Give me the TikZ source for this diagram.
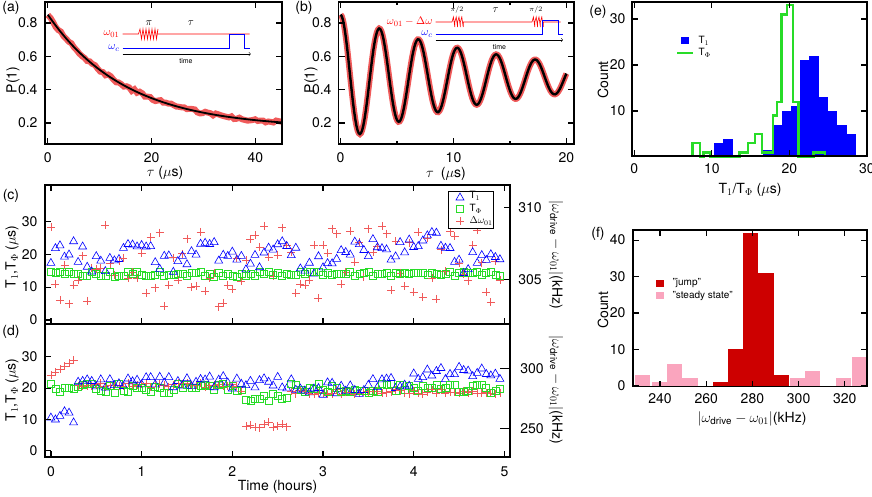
\documentclass[tikz,border=0pt]{standalone}
\usepackage{fontspec}
\setmainfont{TeX Gyre Heros}
\definecolor{fitred}{RGB}{240,90,90}
\definecolor{darkjump}{RGB}{205,0,0}
\definecolor{pinkss}{RGB}{250,165,190}
\definecolor{tgreen}{RGB}{40,220,40}
\tikzset{
  frame/.style={line width=1.4pt},
  tick/.style={line width=1.2pt},
  ticklab/.style={font=\fontsize{14}{16}\selectfont},
  axlab/.style={font=\fontsize{14}{16}\selectfont},
  inlab/.style={font=\fontsize{11}{13}\selectfont},
  leglab/.style={font=\fontsize{10}{12}\selectfont},
  tri/.style={blue, line width=0.6pt},
  sqr/.style={tgreen, line width=0.6pt},
  plus/.style={fitred, line width=0.7pt},
}
\newcommand{\mtri}[2]{\draw[tri] (#1-4,#2+3) -- (#1+4,#2+3) -- (#1,#2-4) -- cycle;}
\newcommand{\msq}[2]{\draw[sqr] (#1-3.5,#2-3.5) rectangle (#1+3.5,#2+3.5);}
\newcommand{\mplus}[2]{\draw[plus] (#1-4,#2) -- (#1+4,#2) (#1,#2-4) -- (#1,#2+4);}
\begin{document}
\begin{tikzpicture}[x=1pt, y=-1pt]
    \useasboundingbox (0,0) rectangle (872,497);
    \pgfmathsetseed{7}
    % (a) decay
    \draw[fitred, line width=6pt] plot[domain=0:45, samples=90] ({47.8+5.19*\x},{23+166.7*(0.63-0.68*exp(-\x/15))+1.5*rand});
    \draw[black, line width=1.8pt] plot[domain=0:45, samples=90] ({47.8+5.19*\x},{23+166.7*(0.63-0.68*exp(-\x/15))});
    \draw[frame] (44.8,2) rectangle (282,144);
    \foreach \v/\l in {0/0,20/20,40/40} {
        \draw[tick] ({47.8+5.19*\v},144) -- ++(0,-6);
        \draw[tick] ({47.8+5.19*\v},2) -- ++(0,6);
        \node[ticklab] at ({47.8+5.19*\v},158) {\l};
    }
    \foreach \v in {0.2,0.4,0.6,0.8} {
        \draw[tick] (44.8,{23+166.7*(0.8-\v)}) -- ++(6,0);
        \draw[tick] (282,{23+166.7*(0.8-\v)}) -- ++(-6,0);
        \node[ticklab, anchor=east] at (41,{23+166.7*(0.8-\v)}) {\v};
    }
    \node[axlab, rotate=90] at (13,80) {P(1)};
    \node[axlab] at (165,173) {$\tau$ ($\mu$s)};
    \node[ticklab] at (11,8) {(a)};
    % (a) inset
    \node[red, inlab, anchor=east] at (123,34) {$\omega_{01}$};
    \draw[red, line width=0.6pt] (122.5,34) -- (138.5,34) -- (140,29) \foreach \k in {0,...,5} {-- ++(1.5,10) -- ++(1.5,-10)} -- (157,34) -- (249.5,34);
    \node[inlab] at (149,23) {$\pi$};
    \node[inlab] at (191,23) {$\tau$};
    \node[blue, inlab, anchor=east] at (123,48) {$\omega_c$};
    \draw[blue, line width=0.6pt] (122.5,48) -- (229,48) -- (229,34) -- (244,34) -- (244,48) -- (249.5,48);
    \draw[->, line width=0.5pt] (122.5,54) -- (250.7,54);
    \node[font=\scriptsize] at (186,61) {time};
    % (b) Ramsey
    \draw[fitred, line width=6pt] plot[domain=0:20, samples=200] ({340.6+11.29*\x},{23+166.7*(0.33-0.38*cos(104.35*\x)*exp(-\x/14))});
    \draw[black, line width=2.4pt] plot[domain=0:20, samples=200] ({340.6+11.29*\x},{23+166.7*(0.33-0.38*cos(104.35*\x)*exp(-\x/14))});
    \draw[frame] (338.7,2) rectangle (574,144);
    \foreach \v in {0,10,20} {
        \draw[tick] ({340.6+11.29*\v},144) -- ++(0,-6);
        \draw[tick] ({340.6+11.29*\v},2) -- ++(0,6);
        \node[ticklab] at ({340.6+11.29*\v},158) {\v};
    }
    \foreach \v in {5,15} {
        \draw[tick] ({340.6+11.29*\v},144) -- ++(0,-3);
        \draw[tick] ({340.6+11.29*\v},2) -- ++(0,3);
    }
    \foreach \v in {0.2,0.4,0.6,0.8} {
        \draw[tick] (338.7,{23+166.7*(0.8-\v)}) -- ++(6,0);
        \draw[tick] (574,{23+166.7*(0.8-\v)}) -- ++(-6,0);
        \node[ticklab, anchor=east] at (335,{23+166.7*(0.8-\v)}) {\v};
    }
    \node[axlab, rotate=90] at (311,80) {P(1)};
    \node[axlab] at (446,174) {$\tau$\enspace($\mu$s)};
    \node[ticklab] at (304,8) {(b)};
    % (b) inset
    \node[red, inlab, anchor=east] at (436,22) {$\omega_{01}-\Delta\omega$};
    \draw[red, line width=0.6pt] (435.5,22) -- (452,22) \foreach \k in {0,...,3} {-- ++(1.4,-5) -- ++(1.4,10) -- ++(0,-5)} -- (532,22) \foreach \k in {0,...,3} {-- ++(1.4,-5) -- ++(1.4,10) -- ++(0,-5)} -- (560.7,22);
    \node[font=\scriptsize] at (457,10) {$\pi/2$};
    \node[inlab] at (495.6,10) {$\tau$};
    \node[font=\scriptsize] at (535.8,10) {$\pi/2$};
    \node[blue, inlab, anchor=east] at (436,34) {$\omega_c$};
    \draw[blue, line width=0.6pt] (435.5,34) -- (542.7,34) -- (542.7,20) -- (558.7,20) -- (558.7,34) -- (562.6,34);
    \draw[->, line width=0.5pt] (435.5,40) -- (563,40);
    \node[font=\scriptsize] at (499.4,47) {time};
    % (c) time trace
    \foreach \i in {0,...,99} {
        \pgfmathsetmacro{\px}{50.9+90.7*\i*0.05}
        \pgfmathsetmacro{\ry}{265+42*rand}
        \pgfmathsetmacro{\gy}{320-3.29*(14+0.8*rand)}
        \pgfmathsetmacro{\by}{320-3.29*(19+2.5*sin(\i*23)+3*rand+(\i>70 && \i<90 ? 4 : 0))}
        \mplus{\px}{\ry}
        \msq{\px}{\gy}
        \mtri{\px}{\by}
    }
    \draw[frame] (44.8,185) rectangle (510,324);
    \foreach \v in {0,...,5} {
        \draw[tick] ({50.9+90.7*\v},185) -- ++(0,6);
        \draw[tick] ({50.9+90.7*\v},324) -- ++(0,-6);
    }
    \foreach \v in {0,10,20,30} {
        \draw[tick] (44.8,{320-3.29*\v}) -- ++(6,0);
        \node[ticklab, anchor=east] at (41,{320-3.29*\v}) {\v};
    }
    \foreach \v/\yy in {310/207.3,305/279.3} {
        \draw[tick] (510,\yy) -- ++(-6,0);
        \node[ticklab] at (530,\yy) {\v};
    }
    \node[axlab, rotate=90] at (12,257) {T$_1$,T$_\Phi$ ($\mu$s)};
    \node[axlab, rotate=-90] at (556,255) {$|\omega_\mathrm{drive}-\omega_{01}|$(kHz)};
    \node[ticklab] at (11,196) {(c)};
    % (c) legend
    \draw[line width=0.6pt, fill=white] (447.8,191) rectangle (493,228);
    \mtri{460}{197}
    \node[leglab, anchor=west] at (466,196) {T$_1$};
    \msq{460}{209}
    \node[leglab, anchor=west] at (466,209) {T$_\Phi$};
    \mplus{460}{221}
    \node[leglab, anchor=west] at (466,221) {$\Delta\omega_{01}$};
    % (d) time trace
    \foreach \i in {0,...,99} {
        \pgfmathsetmacro{\t}{\i*0.05}
        \pgfmathsetmacro{\px}{50.9+90.7*\t}
        \pgfmathsetmacro{\ry}{(\t<0.27 ? 375-60*\t : (\t>2.15 && \t<2.65 ? 425+3*rand : (\t<2.1 ? 385 : 392)+2.5*rand))}
        \pgfmathsetmacro{\gy}{450.7-3.13*(20+1.5*rand+(\t>2.15 && \t<2.65 ? -3 : 0))}
        \pgfmathsetmacro{\by}{450.7-3.13*((\t<0.3 ? 11 : (\t>2.7 && \t<3.5 ? 20 : (\t>4 ? 25 : 22)))+2*rand)}
        \mplus{\px}{\ry}
        \msq{\px}{\gy}
        \mtri{\px}{\by}
    }
    \draw[frame] (44.8,324) rectangle (510,457);
    \foreach \v in {0,...,5} {
        \draw[tick] ({50.9+90.7*\v},457) -- ++(0,-6);
        \node[ticklab] at ({50.9+90.7*\v},472) {\v};
    }
    \foreach \v in {0,10,20,30} {
        \draw[tick] (44.8,{450.7-3.13*\v}) -- ++(6,0);
        \node[ticklab, anchor=east] at (41,{450.7-3.13*\v}) {\v};
    }
    \foreach \v/\yy in {300/368.7,250/428.3} {
        \draw[tick] (510,\yy) -- ++(-10,0);
        \node[ticklab] at (532,\yy) {\v};
    }
    \node[axlab, rotate=90] at (12,390) {T$_1$,T$_\Phi$ ($\mu$s)};
    \node[axlab, rotate=-90] at (556,390) {$|\omega_\mathrm{drive}-\omega_{01}|$(kHz)};
    \node[axlab] at (277.5,487) {Time (hours)};
    \node[ticklab] at (11,332) {(d)};
    % (e) histogram
    \foreach \s/\c in {10.3/3,11.5/4,16.6/1.5,17.8/7,19/10,20.2/11,21.4/21,22.6/22,23.8/13,25/10,26.2/7,27.4/5} {
        \fill[blue] ({634.3+7.75*\s},157) rectangle ({634.3+7.75*(\s+1.2)},{157-4.6*\c});
    }
    \draw[tgreen, line width=2.5pt] plot coordinates {
        ({634.3+7.75*7.5},157) ({634.3+7.75*7.5},{157-4.6*3}) ({634.3+7.75*8.5},{157-4.6*3}) ({634.3+7.75*8.5},157)
        ({634.3+7.75*8.9},157) ({634.3+7.75*8.9},{157-4.6*1}) ({634.3+7.75*9.8},{157-4.6*1}) ({634.3+7.75*9.8},157)
        ({634.3+7.75*13.6},157) ({634.3+7.75*13.6},{157-4.6*1}) ({634.3+7.75*14.7},{157-4.6*1}) ({634.3+7.75*14.7},{157-4.6*3})
        ({634.3+7.75*15.6},{157-4.6*3}) ({634.3+7.75*15.6},{157-4.6*5}) ({634.3+7.75*16.5},{157-4.6*5}) ({634.3+7.75*16.5},{157-4.6*1})
        ({634.3+7.75*17.9},{157-4.6*1}) ({634.3+7.75*17.9},{157-4.6*9}) ({634.3+7.75*18.4},{157-4.6*9}) ({634.3+7.75*18.4},{157-4.6*12})
        ({634.3+7.75*19},{157-4.6*12}) ({634.3+7.75*19},{157-4.6*31}) ({634.3+7.75*19.7},{157-4.6*31}) ({634.3+7.75*19.7},{157-4.6*33})
        ({634.3+7.75*20.5},{157-4.6*33}) ({634.3+7.75*20.5},{157-4.6*12}) ({634.3+7.75*21.2},{157-4.6*12}) ({634.3+7.75*21.2},157)
        ({634.3+7.75*23.1},157) ({634.3+7.75*23.1},{157-4.6*1}) ({634.3+7.75*24.6},{157-4.6*1}) ({634.3+7.75*24.6},157)};
    \draw[frame] (632,2) rectangle (867,156);
    \foreach \v in {0,10,20,30} {
        \draw[tick] ({634.3+7.75*\v},156) -- ++(0,-6);
        \draw[tick] ({634.3+7.75*\v},2) -- ++(0,6);
        \node[ticklab] at ({634.3+7.75*\v},169) {\v};
    }
    \foreach \v in {10,20,30} {
        \draw[tick] (632,{157-4.6*\v}) -- ++(6,0);
        \draw[tick] (867,{157-4.6*\v}) -- ++(-6,0);
        \node[ticklab, anchor=east] at (629,{157-4.6*\v}) {\v};
    }
    \fill[blue] (681,37) rectangle (689,44);
    \node[leglab, anchor=west] at (695,40.7) {T$_1$};
    \draw[tgreen, line width=2pt] (677,52.7) -- (692.7,52.7);
    \node[leglab, anchor=west] at (695,52.7) {T$_\Phi$};
    \node[axlab, rotate=90] at (603,80) {Count};
    \node[axlab] at (750,190) {T$_1$/T$_\Phi$ ($\mu$s)};
    \node[ticklab] at (598,12) {(e)};
    % (f) histogram
    \foreach \s/\c in {229.2/3,236.4/1,242.9/6,249.7/2,296.3/2,302.8/4,316.2/2,323/8} {
        \fill[pinkss] ({660+2.31*(\s-240)},385.7) rectangle ({660+2.31*(\s-240)+15.3},{385.7-3.64*\c});
    }
    \foreach \s/\c in {263/1,269.4/10,276/42,282.6/31,289.2/3} {
        \fill[darkjump] ({660+2.31*(\s-240)},385.7) rectangle ({660+2.31*(\s-240)+15.3},{385.7-3.64*\c});
    }
    \fill[white] (867.7,225) rectangle (880,392);
    \draw[frame] (633,230) rectangle (867,386.7);
    \foreach \v in {240,260,...,320} {
        \draw[tick] ({660+2.31*(\v-240)},386.7) -- ++(0,-6);
        \draw[tick] ({660+2.31*(\v-240)},230) -- ++(0,6);
        \node[ticklab] at ({660+2.31*(\v-240)},399) {\v};
    }
    \foreach \v in {0,10,...,40} {
        \draw[tick] (633,{385.7-3.64*\v}) -- ++(6,0);
        \draw[tick] (867,{385.7-3.64*\v}) -- ++(-6,0);
        \node[ticklab, anchor=east] at (629,{385.7-3.64*\v}) {\v};
    }
    \fill[darkjump] (656,280) rectangle (664,287);
    \node[leglab, anchor=west] at (669,283.3) {"jump"};
    \fill[pinkss] (656,292) rectangle (664,299);
    \node[leglab, anchor=west] at (669,295.7) {"steady state"};
    \node[axlab, rotate=90] at (603,310) {Count};
    \node[axlab] at (752,419) {$|\omega_\mathrm{drive}-\omega_{01}|$(kHz)};
    \node[ticklab] at (598,234) {(f)};
\end{tikzpicture}
\end{document}
